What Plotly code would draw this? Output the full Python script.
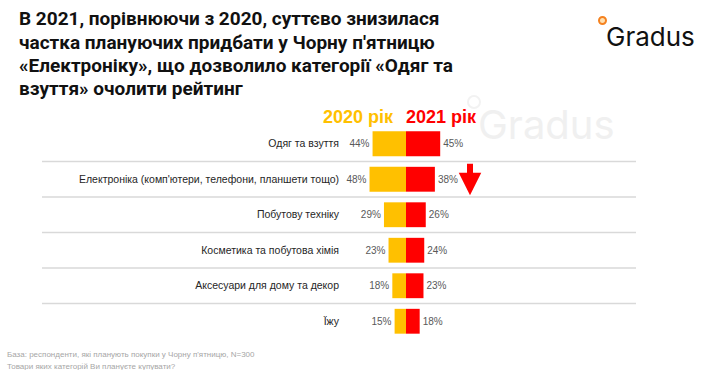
import plotly.graph_objects as go

categories = ["Одяг та взуття",
              "Електроніка (комп'ютери, телефони, планшети тощо)",
              "Побутову техніку",
              "Косметика та побутова хімія",
              "Аксесуари для дому та декор",
              "Їжу"]
values_2020 = [44, 48, 29, 23, 18, 15]
values_2021 = [45, 38, 26, 24, 23, 18]
series_names = ["2020 рік", "2021 рік"]
title_lines = ["В 2021, порівнюючи з 2020, суттєво знизилася",
               "частка плануючих придбати у Чорну п'ятницю",
               "«Електроніку», що дозволило категорії «Одяг та",
               "взуття» очолити рейтинг"]
footer_lines = ["База: респонденти, які планують покупки у Чорну п'ятницю, N=300",
                "Товари яких категорій Ви плануєте купувати?"]

W, H = 720, 370
L, R, T, B = 342, 84, 126, 31
PW, PH = W - L - R, H - T - B
ZERO_PX = 406
PX_PER = 0.76
x_range = [-(ZERO_PX - L) / PX_PER, (W - R - ZERO_PX) / PX_PER]


def px_x(px):
    return (px - L) / PW


def px_y(py):
    return 1 - (py - T) / PH


YELLOW = "#FFC000"
RED = "#FF0000"

fig = go.Figure()
fig.add_trace(go.Bar(
    y=categories, x=[-v for v in values_2020], orientation="h",
    name=series_names[0], marker=dict(color=YELLOW, line=dict(width=0)),
    text=[f"{v}%" for v in values_2020], textposition="outside",
    textfont=dict(size=10, color="#595959", family="Liberation Sans"),
    cliponaxis=False, hoverinfo="skip"))
fig.add_trace(go.Bar(
    y=categories, x=values_2021, orientation="h",
    name=series_names[1], marker=dict(color=RED, line=dict(width=0)),
    text=[f"{v}%" for v in values_2021], textposition="outside",
    textfont=dict(size=10, color="#595959", family="Liberation Sans"),
    cliponaxis=False, hoverinfo="skip"))

shapes = []
for i in range(len(categories) - 1):
    shapes.append(dict(type="line", xref="paper", yref="y",
                       x0=px_x(42), x1=px_x(636), y0=i + 0.5, y1=i + 0.5,
                       line=dict(color="#d9d9d9", width=1.5), layer="below"))
# logo dot
shapes.append(dict(type="circle", xref="paper", yref="paper",
                   x0=px_x(599), x1=px_x(606), y0=px_y(24), y1=px_y(17),
                   line=dict(color="#F58220", width=2), fillcolor="#FFE0B0"))
# watermark dot
shapes.append(dict(type="circle", xref="paper", yref="paper",
                   x0=px_x(468), x1=px_x(480), y0=px_y(108), y1=px_y(96),
                   line=dict(color="#f2f2f2", width=2), layer="below"))

annotations = []
title_y = [18, 42, 66, 89]
for line, py in zip(title_lines, title_y):
    annotations.append(dict(text="<b>" + line + "</b>", xref="paper", yref="paper",
                            x=px_x(17), y=px_y(py), xanchor="left", yanchor="middle",
                            showarrow=False,
                            font=dict(size=19, color="#111111", family="Roboto")))
annotations.append(dict(text="<b>" + series_names[0] + "</b>", xref="x", yref="paper",
                        x=(358 - ZERO_PX) / PX_PER, y=px_y(117), xanchor="center", yanchor="middle",
                        showarrow=False, font=dict(size=18, color=YELLOW, family="Liberation Sans")))
annotations.append(dict(text="<b>" + series_names[1] + "</b>", xref="x", yref="paper",
                        x=(441 - ZERO_PX) / PX_PER, y=px_y(117), xanchor="center", yanchor="middle",
                        showarrow=False, font=dict(size=18, color=RED, family="Liberation Sans")))
# down arrow next to electronics
annotations.append(dict(text="", xref="x", yref="y", x=(470 - ZERO_PX) / PX_PER, y=1.45,
                        ax=0, ay=-33, showarrow=True, arrowhead=2, arrowwidth=6,
                        arrowsize=0.75, arrowcolor=RED, standoff=0))
# logo
annotations.append(dict(text="Gradus", xref="paper", yref="paper",
                        x=px_x(604), y=px_y(36), xanchor="left", yanchor="middle",
                        showarrow=False, font=dict(size=26, color="#111111", family="Inter")))
# watermark
annotations.append(dict(text="Gradus", xref="paper", yref="paper",
                        x=px_x(476), y=px_y(124), xanchor="left", yanchor="middle",
                        showarrow=False, font=dict(size=40, color="#f0f0f0", family="Inter")))
for line, py in zip(footer_lines, [354, 366]):
    annotations.append(dict(text=line, xref="paper", yref="paper",
                            x=px_x(5), y=px_y(py), xanchor="left", yanchor="middle",
                            showarrow=False,
                            font=dict(size=8, color="#a6a6a6", family="Liberation Sans")))

fig.update_layout(
    width=W, height=H, margin=dict(l=L, r=R, t=T, b=B),
    paper_bgcolor="white", plot_bgcolor="rgba(0,0,0,0)",
    barmode="relative", bargap=0.3, showlegend=False,
    xaxis=dict(range=x_range, visible=False, fixedrange=True),
    yaxis=dict(categoryorder="array", categoryarray=categories, autorange="reversed",
               showgrid=False, zeroline=False, showline=False, ticks="",
               ticklabelstandoff=2, fixedrange=True,
               tickfont=dict(size=10.5, color="#262626", family="Liberation Sans")),
    shapes=shapes, annotations=annotations,
)

fig.write_html("out.html", config={"displayModeBar": False},
               post_script="document.body.style.margin='0';document.body.style.overflow='hidden';")
